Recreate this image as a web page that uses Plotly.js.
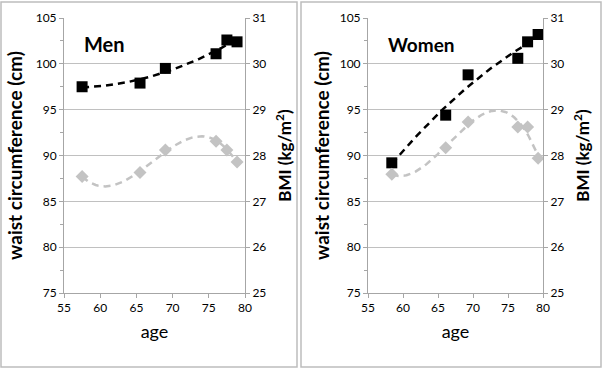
<!DOCTYPE html>
<html><head><meta charset="utf-8">
<script src="https://cdn.plot.ly/plotly-3.0.1.min.js"></script>
<style>html,body{margin:0;padding:0;background:#fff}#chart{width:603px;height:369px}</style>
</head><body><div id="chart"></div>
<script>
// Men
const menAge   = [57.5, 65.5, 69.0, 76.0, 77.5, 78.9];
const menWaist = [97.5, 97.9, 99.5, 101.1, 102.6, 102.4];
const menBMIAge = [57.5, 65.5, 69.0, 76.0, 77.5, 78.9];
const menBMI   = [27.54, 27.63, 28.12, 28.31, 28.12, 27.86];
// Women
const womenAge   = [58.4, 66.1, 69.3, 76.4, 77.8, 79.3];
const womenWaist = [89.2, 94.4, 98.8, 100.6, 102.4, 103.2];
const womenBMIAge = [58.4, 66.1, 69.3, 76.4, 77.8, 79.3];
const womenBMI   = [27.59, 28.17, 28.73, 28.62, 28.62, 27.94];
const panelLabels = ["Men", "Women"];

function polyfit(xs, ys, deg) {
  const n = deg + 1;
  const A = Array.from({length: n}, () => new Array(n + 1).fill(0));
  for (let k = 0; k < xs.length; k++) {
    const x = xs[k] - 70;
    for (let i = 0; i < n; i++) {
      for (let j = 0; j < n; j++) A[i][j] += Math.pow(x, i + j);
      A[i][n] += ys[k] * Math.pow(x, i);
    }
  }
  for (let i = 0; i < n; i++) {
    let p = i;
    for (let r = i + 1; r < n; r++) if (Math.abs(A[r][i]) > Math.abs(A[p][i])) p = r;
    [A[i], A[p]] = [A[p], A[i]];
    for (let r = 0; r < n; r++) {
      if (r === i) continue;
      const f = A[r][i] / A[i][i];
      for (let c = i; c <= n; c++) A[r][c] -= f * A[i][c];
    }
  }
  const coef = A.map((row, i) => row[n] / row[i]);
  return x => coef.reduce((s, c, i) => s + c * Math.pow(x - 70, i), 0);
}
function trend(xs, ys, deg) {
  const f = polyfit(xs, ys, deg);
  const lo = Math.min(...xs), hi = Math.max(...xs);
  const X = [], Y = [];
  for (let i = 0; i <= 80; i++) { const x = lo + (hi - lo) * i / 80; X.push(x); Y.push(f(x)); }
  return {x: X, y: Y};
}

const black = '#000000', grey = '#c3c3c3';
const tm = trend(menAge, menWaist, 2), tmb = trend(menBMIAge, menBMI, 3);
const tw = trend(womenAge, womenWaist, 2), twb = trend(womenBMIAge, womenBMI, 3);

const data = [
  {x: tmb.x, y: tmb.y, xaxis: 'x', yaxis: 'y2', mode: 'lines', line: {color: grey, width: 2.5, dash: '7px,5px'}, hoverinfo: 'skip'},
  {x: menBMIAge, y: menBMI, xaxis: 'x', yaxis: 'y2', mode: 'markers', marker: {symbol: 'diamond', size: 10, color: grey}},
  {x: tm.x, y: tm.y, xaxis: 'x', yaxis: 'y', mode: 'lines', line: {color: black, width: 2.5, dash: '7px,5px'}, hoverinfo: 'skip'},
  {x: menAge, y: menWaist, xaxis: 'x', yaxis: 'y', mode: 'markers', marker: {symbol: 'square', size: 11, color: black}},
  {x: twb.x, y: twb.y, xaxis: 'x2', yaxis: 'y4', mode: 'lines', line: {color: grey, width: 2.5, dash: '7px,5px'}, hoverinfo: 'skip'},
  {x: womenBMIAge, y: womenBMI, xaxis: 'x2', yaxis: 'y4', mode: 'markers', marker: {symbol: 'diamond', size: 10, color: grey}},
  {x: tw.x, y: tw.y, xaxis: 'x2', yaxis: 'y3', mode: 'lines', line: {color: black, width: 2.5, dash: '7px,5px'}, hoverinfo: 'skip'},
  {x: womenAge, y: womenWaist, xaxis: 'x2', yaxis: 'y3', mode: 'markers', marker: {symbol: 'square', size: 11, color: black}}
];

const font = {family: 'Lato, "Open Sans", sans-serif', color: '#000'};
const tickf = {family: 'Lato, sans-serif', size: 12, color: '#000'};
const axLine = '#a6a6a6';
function xax(domain, anchor) {
  return {domain: domain, anchor: anchor, range: [55, 80], dtick: 5, tick0: 55, showgrid: false, zeroline: false,
    showline: true, linecolor: axLine, ticks: 'outside', ticklen: 4, tickcolor: axLine, tickfont: tickf,
    title: {text: 'age', font: {family: 'Lato, sans-serif', size: 18, color: '#000'}, standoff: 10}};
}
function yl(anchor, standoff) {
  return {anchor: anchor, domain: [0, 1], range: [75, 105], dtick: 5, tick0: 75, showgrid: true, gridcolor: '#c0c0c0', gridwidth: 1,
    zeroline: false, showline: true, linecolor: axLine, ticks: 'outside', ticklen: 4, tickcolor: axLine, tickfont: tickf,
    minor: {dtick: 2.5, ticks: 'outside', ticklen: 3, tickcolor: axLine, showgrid: false},
    title: {text: 'waist circumference (cm)', font: {family: 'Lato, sans-serif', size: 19, color: '#000', weight: 'bold'}, standoff: standoff}};
}
function yr(anchor, over) {
  return {anchor: anchor, overlaying: over, side: 'right', range: [25, 31], dtick: 1, tick0: 25, showgrid: false,
    zeroline: false, showline: true, linecolor: axLine, ticks: 'outside', ticklen: 4, tickcolor: axLine, tickfont: tickf,
    title: {text: 'BMI (kg/m<sup>2</sup>)', font: {family: 'Lato, sans-serif', size: 17, color: '#000', weight: 'bold'}, standoff: 13}};
}
const W = 479, H = 275, L = 64, T = 18;
const px = v => (v - L) / W, py = v => (T + H - v) / H;
const layout = {
  width: 603, height: 369, margin: {l: L, r: 60, t: T, b: 76},
  paper_bgcolor: '#fff', plot_bgcolor: '#fff', showlegend: false, font: font,
  xaxis: xax([0, px(245)], 'y'),
  yaxis: yl('x', 8),
  yaxis2: yr('x', 'y'),
  xaxis2: xax([px(368), 1], 'y3'),
  yaxis3: yl('x2', 5),
  yaxis4: yr('x2', 'y3'),
  annotations: [
    {text: panelLabels[0], xref: 'paper', yref: 'paper', x: px(82), y: py(44), xanchor: 'left', yanchor: 'middle', showarrow: false,
      font: {family: 'Lato, sans-serif', size: 20, color: '#000', weight: 'bold'}},
    {text: panelLabels[1], xref: 'paper', yref: 'paper', x: px(386), y: py(44), xanchor: 'left', yanchor: 'middle', showarrow: false,
      font: {family: 'Lato, sans-serif', size: 19, color: '#000', weight: 'bold'}}
  ],
  shapes: [
    {type: 'rect', xref: 'paper', yref: 'paper', x0: px(1), x1: px(297), y0: py(367), y1: py(2), line: {color: '#bdbdbd', width: 1.5}},
    {type: 'rect', xref: 'paper', yref: 'paper', x0: px(301), x1: px(601), y0: py(367), y1: py(2), line: {color: '#bdbdbd', width: 1.5}}
  ]
};
Plotly.newPlot('chart', data, layout, {displayModeBar: false, staticPlot: true});
</script></body></html>
